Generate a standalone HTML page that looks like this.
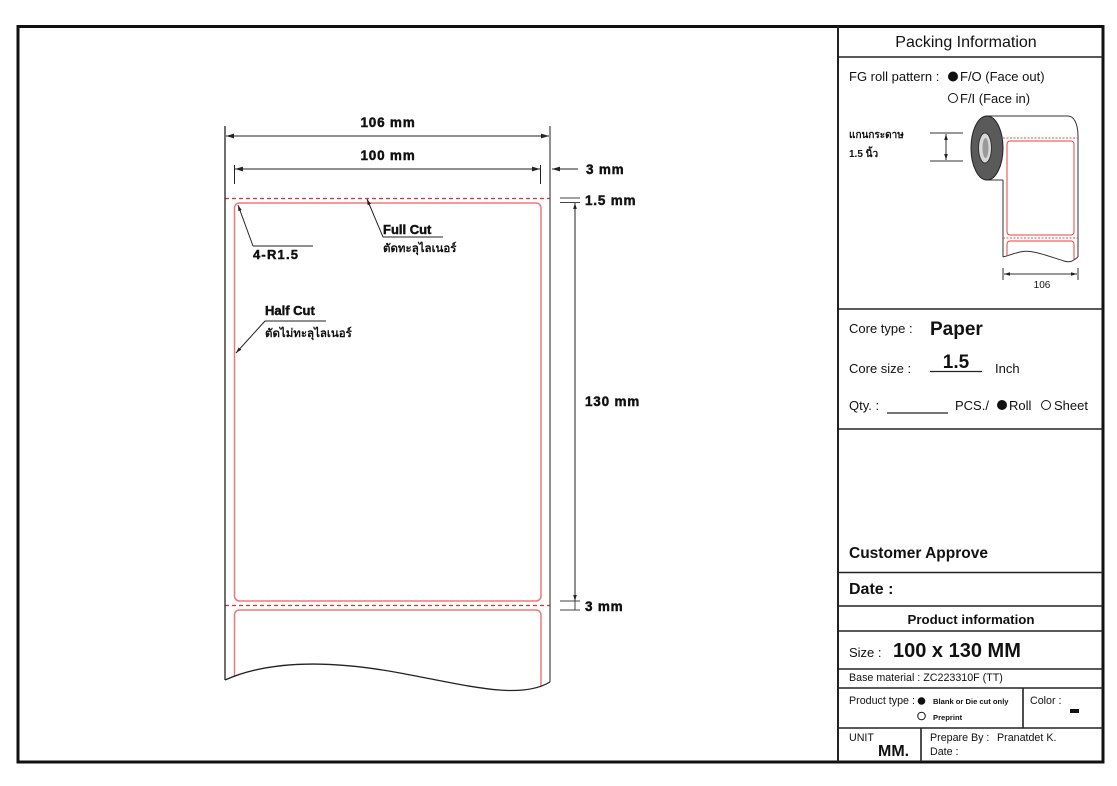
<!DOCTYPE html>
<html><head><meta charset="utf-8"><style>
html,body{margin:0;padding:0;background:#fff;}
svg{display:block;}
text{font-family:"Liberation Sans","DejaVu Sans",sans-serif;fill:#111;}
.b{font-weight:bold;}
.d{font-weight:bold;stroke:#111;stroke-width:0.45;}
.th{font-family:"Liberation Sans","DejaVu Sans","Noto Sans CJK SC",sans-serif;font-weight:bold;}
</style></head><body>
<svg width="1117" height="786" viewBox="0 0 1117 786" xmlns="http://www.w3.org/2000/svg">
<defs>
<marker id="a" viewBox="0 0 10 6" refX="10" refY="3" markerWidth="8" markerHeight="5" markerUnits="userSpaceOnUse" orient="auto-start-reverse"><path d="M0,0 L10,3 L0,6z" fill="#222"/></marker>
<marker id="s" viewBox="0 0 10 6" refX="10" refY="3" markerWidth="6" markerHeight="4" markerUnits="userSpaceOnUse" orient="auto-start-reverse"><path d="M0,0 L10,3 L0,6z" fill="#222"/></marker>
<clipPath id="pc"><path d="M225,120 L550,120 L550,682 C520,700 470,686 400,673 C330,660 270,660 225,680 Z"/></clipPath>
<clipPath id="rc"><path d="M1003,120 L1078,120 L1078,257 C1073,261 1070,263 1064,261 C1045,255 1030,249 1020,252 C1012,254 1007,256 1003,257 Z"/></clipPath>
</defs>

<!-- outer frame -->
<rect x="18" y="26.5" width="1085" height="735.5" fill="none" stroke="#111" stroke-width="3"/>
<line x1="838" y1="26" x2="838" y2="762" stroke="#222" stroke-width="2"/>

<!-- ===== Main drawing ===== -->
<g clip-path="url(#pc)">
  <rect x="234.5" y="203" width="306.5" height="398" rx="5" fill="none" stroke="#f07878" stroke-width="1.5"/>
  <rect x="234.5" y="610" width="306.5" height="120" rx="5" fill="none" stroke="#f07878" stroke-width="1.5"/>
  <line x1="225" y1="198.5" x2="550" y2="198.5" stroke="#e03030" stroke-width="1.2" stroke-dasharray="4,3"/>
  <line x1="225" y1="605.5" x2="550" y2="605.5" stroke="#e03030" stroke-width="1.2" stroke-dasharray="4,3"/>
</g>
<line x1="225" y1="126" x2="225" y2="680" stroke="#222" stroke-width="1.3"/>
<line x1="550" y1="126" x2="550" y2="682" stroke="#555" stroke-width="1.3"/>
<path d="M225,680 C270,660 330,660 400,673 C470,686 520,700 550,682" fill="none" stroke="#222" stroke-width="1.3"/>

<!-- 106 mm -->
<line x1="226" y1="136" x2="549" y2="136" stroke="#222" stroke-width="1" marker-start="url(#a)" marker-end="url(#a)"/>
<text x="388" y="127" class="d" font-size="13.5" letter-spacing="0.8" text-anchor="middle">106 mm</text>
<!-- 100 mm -->
<line x1="234.5" y1="165" x2="234.5" y2="184" stroke="#222" stroke-width="1"/>
<line x1="540.5" y1="165" x2="540.5" y2="184" stroke="#222" stroke-width="1"/>
<line x1="235" y1="169" x2="540" y2="169" stroke="#222" stroke-width="1" marker-start="url(#a)" marker-end="url(#a)"/>
<text x="388" y="160" class="d" font-size="13.5" letter-spacing="0.8" text-anchor="middle">100 mm</text>
<!-- 3 mm right -->
<line x1="578" y1="169" x2="552" y2="169" stroke="#222" stroke-width="1" marker-end="url(#a)"/>
<text x="586" y="174" class="d" font-size="13.5" letter-spacing="0.8">3 mm</text>
<!-- 1.5 mm -->
<line x1="560" y1="198" x2="580" y2="198" stroke="#444" stroke-width="1"/>
<line x1="560" y1="202.5" x2="580" y2="202.5" stroke="#444" stroke-width="1"/>
<text x="585" y="205" class="d" font-size="13.5" letter-spacing="0.8">1.5 mm</text>
<!-- 130 mm -->
<line x1="575" y1="203" x2="575" y2="601" stroke="#222" stroke-width="1" marker-start="url(#s)" marker-end="url(#s)"/>
<text x="585" y="406" class="d" font-size="13.5" letter-spacing="0.8">130 mm</text>
<!-- 3 mm bottom -->
<line x1="560" y1="601" x2="580" y2="601" stroke="#444" stroke-width="1"/>
<line x1="560" y1="610" x2="580" y2="610" stroke="#444" stroke-width="1"/>
<line x1="575" y1="601" x2="575" y2="610" stroke="#444" stroke-width="1"/>
<text x="585" y="611" class="d" font-size="13.5" letter-spacing="0.8">3 mm</text>

<!-- 4-R1.5 -->
<line x1="253" y1="246" x2="238" y2="205" stroke="#222" stroke-width="1" marker-end="url(#s)"/>
<line x1="253" y1="246" x2="313" y2="246" stroke="#222" stroke-width="1"/>
<text x="253" y="259" class="d" font-size="13" letter-spacing="1.2">4-R1.5</text>
<!-- Full Cut -->
<line x1="383" y1="237" x2="367" y2="199" stroke="#222" stroke-width="1" marker-end="url(#s)"/>
<line x1="383" y1="237" x2="443" y2="237" stroke="#222" stroke-width="1"/>
<text x="383" y="234" class="d" font-size="13">Full Cut</text>
<text x="383" y="252" class="th" font-size="11.5">ตัดทะลุไลเนอร์</text>
<!-- Half Cut -->
<line x1="265" y1="321" x2="236" y2="353" stroke="#222" stroke-width="1" marker-end="url(#s)"/>
<line x1="265" y1="321" x2="326" y2="321" stroke="#222" stroke-width="1"/>
<text x="265" y="315" class="d" font-size="13">Half Cut</text>
<text x="265" y="337" class="th" font-size="11.5">ตัดไม่ทะลุไลเนอร์</text>

<!-- ===== Right panel ===== -->
<g stroke="#222" stroke-width="1.6">
  <line x1="838" y1="57" x2="1103" y2="57"/>
  <line x1="838" y1="309" x2="1103" y2="309"/>
  <line x1="838" y1="429" x2="1103" y2="429"/>
  <line x1="838" y1="572.5" x2="1103" y2="572.5"/>
  <line x1="838" y1="606" x2="1103" y2="606"/>
  <line x1="838" y1="631" x2="1103" y2="631"/>
  <line x1="838" y1="669" x2="1103" y2="669"/>
  <line x1="838" y1="688" x2="1103" y2="688"/>
  <line x1="838" y1="728" x2="1103" y2="728"/>
  <line x1="1023" y1="688" x2="1023" y2="728"/>
  <line x1="921" y1="728" x2="921" y2="762"/>
</g>

<text x="966" y="47" font-size="16" text-anchor="middle">Packing Information</text>
<text x="849" y="81" font-size="13">FG roll pattern :</text>
<circle cx="953" cy="76.5" r="5" fill="#111"/>
<text x="960" y="81" font-size="13">F/O (Face out)</text>
<circle cx="953" cy="98" r="4.5" fill="none" stroke="#111" stroke-width="1"/>
<text x="960" y="103" font-size="13">F/I (Face in)</text>

<!-- roll illustration -->
<text x="849" y="138" class="th" font-size="10">แกนกระดาษ</text>
<text x="849" y="157" class="th" font-size="10">1.5 นิ้ว</text>
<line x1="930" y1="133" x2="963" y2="133" stroke="#333" stroke-width="1"/>
<line x1="930" y1="161" x2="963" y2="161" stroke="#333" stroke-width="1"/>
<line x1="946" y1="134" x2="946" y2="160" stroke="#333" stroke-width="1" marker-start="url(#s)" marker-end="url(#s)"/>

<path d="M986,116 L1068,116 C1074,116 1078,124 1078,136 L1078,257" fill="none" stroke="#333" stroke-width="1"/>
<line x1="987" y1="180" x2="1003" y2="180" stroke="#333" stroke-width="1"/>
<line x1="1003" y1="180" x2="1003" y2="257" stroke="#333" stroke-width="1"/>
<path d="M1003,257 C1007,256 1012,254 1020,252 C1030,249 1045,255 1064,261 C1070,263 1073,261 1078,257" fill="none" stroke="#333" stroke-width="1"/>
<g clip-path="url(#rc)">
  <line x1="1003" y1="138" x2="1078" y2="138" stroke="#e05050" stroke-width="1" stroke-dasharray="2,1.5"/>
  <line x1="1003" y1="238" x2="1078" y2="238" stroke="#e05050" stroke-width="1" stroke-dasharray="2,1.5"/>
  <rect x="1007" y="141" width="67" height="94" rx="3" fill="none" stroke="#e84040" stroke-width="1"/>
  <rect x="1007" y="241" width="67" height="40" rx="3" fill="none" stroke="#e84040" stroke-width="1"/>
</g>
<ellipse cx="987" cy="148" rx="16" ry="32" fill="#5a5a5a" stroke="#222" stroke-width="1"/>
<ellipse cx="985" cy="148" rx="6.5" ry="15" fill="#d8d8d8" stroke="#333" stroke-width="1"/>
<ellipse cx="985.5" cy="148" rx="3" ry="10" fill="#9a9a9a"/>

<line x1="1003" y1="268" x2="1003" y2="280" stroke="#333" stroke-width="1"/>
<line x1="1078" y1="268" x2="1078" y2="280" stroke="#333" stroke-width="1"/>
<line x1="1004" y1="274" x2="1077" y2="274" stroke="#333" stroke-width="1" marker-start="url(#s)" marker-end="url(#s)"/>
<text x="1042" y="288" font-size="10" text-anchor="middle">106</text>

<!-- core -->
<text x="849" y="333" font-size="13">Core type :</text>
<text x="930" y="335" class="b" font-size="19">Paper</text>
<text x="849" y="373" font-size="13">Core size :</text>
<text x="956" y="368" class="b" font-size="19" text-anchor="middle">1.5</text>
<line x1="930" y1="371.5" x2="982" y2="371.5" stroke="#222" stroke-width="1.2"/>
<text x="995" y="373" font-size="13">Inch</text>
<text x="849" y="410" font-size="13">Qty. :</text>
<line x1="887" y1="413" x2="948" y2="413" stroke="#222" stroke-width="1.2"/>
<text x="955" y="410" font-size="13">PCS./</text>
<circle cx="1002" cy="405" r="5" fill="#111"/>
<text x="1009" y="410" font-size="13">Roll</text>
<circle cx="1046" cy="405" r="4.5" fill="none" stroke="#111" stroke-width="1"/>
<text x="1054" y="410" font-size="13">Sheet</text>

<text x="849" y="558" class="b" font-size="15.5">Customer Approve</text>
<text x="849" y="594" class="b" font-size="16">Date :</text>
<text x="971" y="624" class="b" font-size="13.3" text-anchor="middle">Product information</text>
<text x="849" y="657" font-size="13">Size :</text>
<text x="893" y="657" class="b" font-size="20">100 x 130 MM</text>
<text x="849" y="681" font-size="10.7">Base material : ZC223310F (TT)</text>
<text x="849" y="704" font-size="10.7">Product type :</text>
<circle cx="921.5" cy="701" r="3.8" fill="#111"/>
<text x="933" y="704" class="b" font-size="7.6">Blank or Die cut only</text>
<circle cx="921.5" cy="716" r="3.8" fill="none" stroke="#111" stroke-width="1"/>
<text x="933" y="720" class="b" font-size="7.6">Preprint</text>
<text x="1030" y="704" font-size="10.7">Color :</text>
<rect x="1070" y="709" width="9" height="4" fill="#111"/>
<text x="849" y="741" font-size="10.7">UNIT</text>
<text x="878" y="756" class="b" font-size="16">MM.</text>
<text x="930" y="741" font-size="10.7">Prepare By :</text>
<text x="997" y="741" font-size="10.7">Pranatdet K.</text>
<text x="930" y="755" font-size="10.7">Date :</text>
</svg>
</body></html>
